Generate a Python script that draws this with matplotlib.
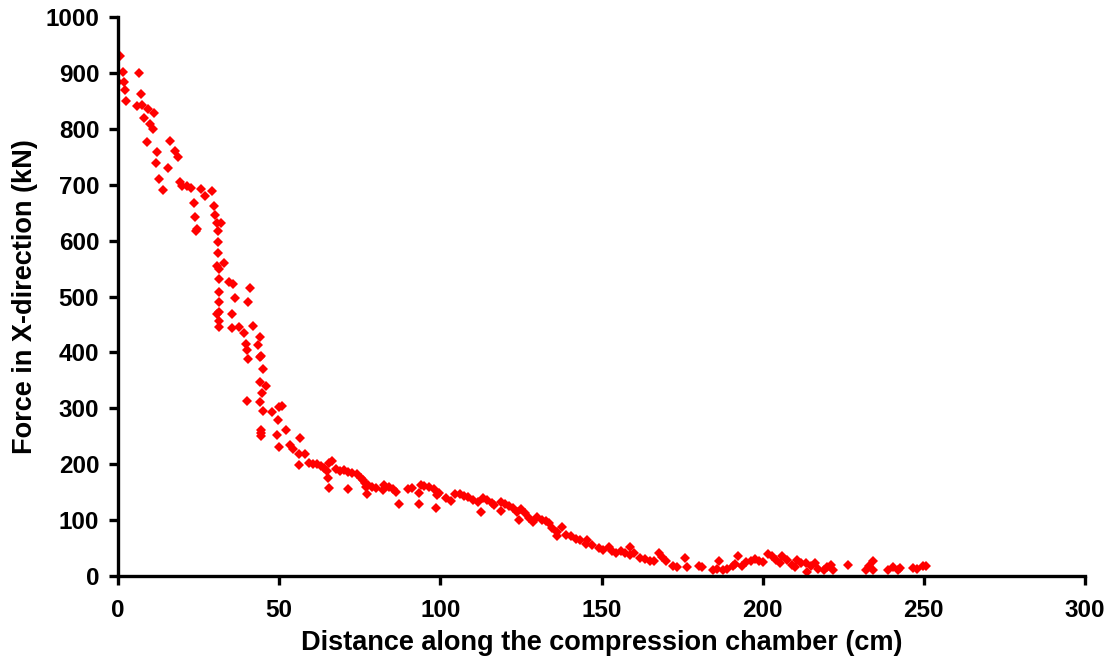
import numpy as np
import matplotlib
matplotlib.use("Agg")
from matplotlib import pyplot as plt

# distance along chamber (cm) and force (kN)
dist = [0.6, 1.4, 6.4, 0.0, 1.9, 2.2, 2.5, 7.0, 5.8, 7.6, 9.2, 11.3, 8.2, 9.9, 10.8, 9.1, 16.2, 12.0,
        17.8, 18.5, 11.8, 15.4, 12.7, 14.1, 19.2, 20.0, 21.3, 22.6, 25.8, 29.3, 27.0, 23.6, 29.8, 30.2, 24.0,
        30.8, 31.8, 24.4, 24.2, 31.0, 31.0, 31.1, 30.6, 31.2, 32.9, 31.4, 34.4, 35.6, 41.1, 31.4, 36.4,
        40.2, 31.4, 30.7, 31.4, 35.4, 31.3, 31.4, 35.4, 37.6, 42.0, 39.2, 44.2, 39.7, 43.5, 40.1, 44.4,
        44.1, 40.2, 45.1, 44.1, 46.0, 44.7, 40.1, 44.2, 44.9, 47.9, 50.0, 50.8, 49.6, 52.0, 44.3, 44.5,
        44.3, 49.2, 56.4, 50.0, 53.5, 54.2, 56.0, 58.0, 56.3, 59.2,
        60.4, 61.8, 63.0, 63.9, 64.7, 65.5, 66.4, 65.3, 65.5, 67.6, 68.9, 70.1, 71.5, 72.7, 74.0, 75.3,
        76.1, 76.7, 71.5, 76.9, 77.7, 78.7, 77.4, 80.0, 82.1, 82.5, 84.2, 85.2, 86.2, 87.3, 89.9, 91.1,
        93.5, 93.4, 94.0, 94.9, 96.6, 98.0, 99.1, 99.7, 98.8, 101.8, 103.2, 104.6, 106.0, 107.2,
        108.7, 110.2, 111.7, 112.6, 113.3, 114.5, 115.9, 116.7, 118.7, 118.7, 120.1, 121.4, 122.6, 123.7,
        124.4, 125.0, 126.3, 127.6, 128.7, 130.1, 131.4, 132.8, 133.7, 134.5, 136.1, 136.1, 137.7, 139.0,
        140.5, 142.1, 143.3, 145.2, 145.6, 146.9, 149.3, 150.6, 152.4, 153.2, 154.5, 156.0, 157.3, 158.9,
        158.9, 160.1, 162.0, 163.5, 164.9, 166.3, 167.9, 168.7, 170.0, 172.1, 173.3, 176.0, 176.5, 180.4,
        181.1, 184.7, 185.7, 186.5, 187.6, 189.0, 190.7, 191.4, 192.4, 193.5, 194.8, 196.3, 197.6, 199.0,
        200.2, 201.8, 203.0, 204.2, 205.4, 205.9, 207.5, 209.0, 210.0, 210.5, 211.8, 213.5, 213.9, 214.9,
        216.3, 217.3, 218.9, 219.9, 221.1, 221.8, 226.6, 232.1, 233.1, 234.1, 234.1, 238.9, 240.5, 242.1,
        242.6, 246.7, 248.0, 249.7, 250.7]
force = [930, 902, 900, 883, 883, 869, 849, 862, 840, 843, 835, 828, 820, 808, 799, 777, 779, 759,
         761, 750, 739, 729, 711, 690, 704, 697, 697, 694, 692, 689, 679, 667, 662, 646, 642,
         631, 632, 621, 617, 617, 598, 577, 555, 549, 560, 531, 526, 522, 515, 508, 497,
         490, 490, 469, 472, 468, 456, 446, 443, 445, 448, 435, 428, 415, 414, 404, 394,
         391, 389, 370, 347, 340, 327, 313, 312, 296, 293, 302, 305, 279, 261, 262, 255,
         250, 252, 247, 231, 234, 228, 218, 218, 199, 202,
         200, 200, 197, 193, 188, 202, 206, 175, 157, 191, 188, 189, 186, 184, 182, 176,
         172, 167, 155, 160, 162, 160, 147, 157, 153, 162, 159, 156, 150, 129, 156, 157,
         148, 128, 163, 161, 159, 155, 145, 149, 122, 139, 135, 146, 147, 144,
         141, 136, 133, 115, 139, 136, 131, 127, 133, 117, 129, 125, 121, 115,
         101, 119, 112, 103, 97, 105, 101, 99, 94, 85, 78, 72, 88, 73,
         72, 67, 64, 58, 64, 55, 50, 47, 52, 45, 42, 44, 41, 52,
         38, 42, 32, 30, 27, 26, 41, 34, 26, 17, 16, 32, 16, 18,
         16, 10, 12, 27, 11, 12, 17, 21, 35, 17, 25, 27, 30, 27,
         25, 39, 35, 29, 23, 36, 29, 20, 16, 29, 24, 23, 8, 17,
         24, 12, 11, 16, 20, 11, 20, 11, 18, 27, 11, 11, 16, 11,
         14, 14, 12, 17, 18]

x_ticks = [0, 50, 100, 150, 200, 250, 300]
y_ticks = [0, 100, 200, 300, 400, 500, 600, 700, 800, 900, 1000]

plt.rcParams['font.family'] = ['Liberation Sans', 'DejaVu Sans']
plt.rcParams['font.weight'] = 'bold'

fig = plt.figure(figsize=(11.17, 6.68), dpi=100)
ax = fig.add_axes([118/1117, 1-576/668, (1085-118)/1117, (576-17)/668])
ax.plot(dist, force, linestyle='none', marker='D', markersize=5, color='#ff0000', markeredgewidth=0)
ax.set_xlim(0, 300)
ax.set_ylim(0, 1000)
ax.set_xticks(x_ticks)
ax.set_yticks(y_ticks)
ax.tick_params(direction='out', length=6.5, width=2.4, labelsize=17.5)
ax.tick_params(axis='y', pad=7)
ax.tick_params(axis='x', pad=10)
for lab in ax.get_xticklabels() + ax.get_yticklabels():
    lab.set_fontweight('bold')
for s in ['top', 'right']:
    ax.spines[s].set_visible(False)
for s in ['left', 'bottom']:
    ax.spines[s].set_linewidth(2.4)
ax.set_xlabel("Distance along the compression chamber (cm)", fontsize=19.5, fontweight='bold', labelpad=6)
ax.set_ylabel("Force in X-direction (kN)", fontsize=19.5, fontweight='bold', labelpad=5)
fig.savefig("out.png", dpi=100)
